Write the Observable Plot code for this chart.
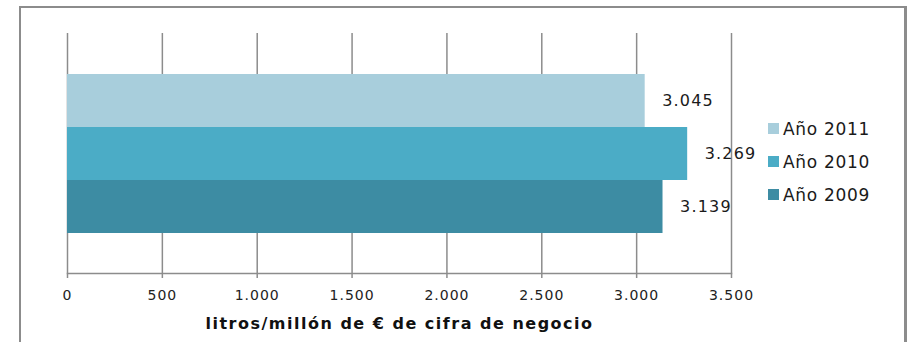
<!DOCTYPE html>
<html>
<head>
<meta charset="utf-8">
<script src="https://cdn.jsdelivr.net/npm/d3@7"></script>
<script src="https://cdn.jsdelivr.net/npm/@observablehq/plot@0.6"></script>
<style>
  html, body { margin: 0; padding: 0; background: #fff; }
  #wrap { position: relative; width: 908px; height: 342px; overflow: hidden; font-family: "DejaVu Sans", Verdana, sans-serif; }
  #frame { position: absolute; left: 19px; top: 6px; width: 888px; height: 400px; border: 2px solid #8c8c8c; border-right-width: 3px; box-sizing: border-box; }
  #chart { position: absolute; left: 0; top: 0; }
  #legend { position: absolute; left: 768px; top: 112px; }
  .lg-row { display: flex; align-items: center; height: 33px; font-size: 17px; letter-spacing: 0.7px; color: #1a1a1a; }
  .lg-sw { width: 11px; height: 11px; margin-right: 4px; }
</style>
</head>
<body>
<div id="wrap">
  <div id="frame"></div>
  <div id="chart"></div>
  <div id="legend"></div>
</div>
<script>
// Data
const years = ["Año 2011", "Año 2010", "Año 2009"];
const values = [3045, 3269, 3139];
const colors = ["#A8CEDC", "#4BACC6", "#3D8CA3"];
const xTicks = [0, 500, 1000, 1500, 2000, 2500, 3000, 3500];
const axisTitle = "litros/millón de € de cifra de negocio";

const data = years.map((y, i) => ({year: y, value: values[i]}));
const fmt = v => d3.format(",")(v).replace(/,/g, ".");

const plot = Plot.plot({
  width: 908,
  height: 342,
  marginLeft: 67,
  marginRight: 177,
  marginTop: 33,
  marginBottom: 69,
  style: {fontFamily: "'DejaVu Sans', Verdana, sans-serif", background: "transparent", overflow: "visible"},
  x: {domain: [0, 3500]},
  y: {domain: years, padding: 0, insetTop: 39.7, insetBottom: 39, axis: null},
  color: {domain: years, range: colors},
  marks: [
    Plot.ruleX(xTicks, {stroke: "#8c8c8c", strokeWidth: 1.5}),
    Plot.barX(data, {x: "value", y: "year", fill: "year"}),
    Plot.frame({anchor: "bottom", stroke: "#8c8c8c", strokeWidth: 1.5}),
    Plot.axisX({ticks: xTicks, tickSize: 5, tickPadding: 12, tickFormat: fmt, fontSize: 14, stroke: "#8c8c8c", strokeWidth: 1.5, fill: "#222", label: null}),
    Plot.text(data, {x: "value", y: "year", text: d => fmt(d.value), dx: 17, textAnchor: "start", fontSize: 16, fill: "#1a1a1a"}),
    Plot.text([axisTitle], {text: d => d, frameAnchor: "bottom", dy: 55, fontSize: 16, fontWeight: "bold", fill: "#111"})
  ]
});
document.getElementById("chart").appendChild(plot);

// letter spacing tweaks
const svg = d3.select(plot);
svg.selectAll('g[aria-label="x-axis tick label"] text').style("letter-spacing", "1px");
svg.selectAll('g[aria-label="text"]').each(function(d, i) {
  d3.select(this).selectAll("text").style("letter-spacing", i === 0 ? "1.2px" : "1.5px");
});

// legend
const lg = d3.select("#legend");
years.forEach((y, i) => {
  const row = lg.append("div").attr("class", "lg-row");
  row.append("div").attr("class", "lg-sw").style("background", colors[i]);
  row.append("span").text(y);
});
</script>
</body>
</html>
